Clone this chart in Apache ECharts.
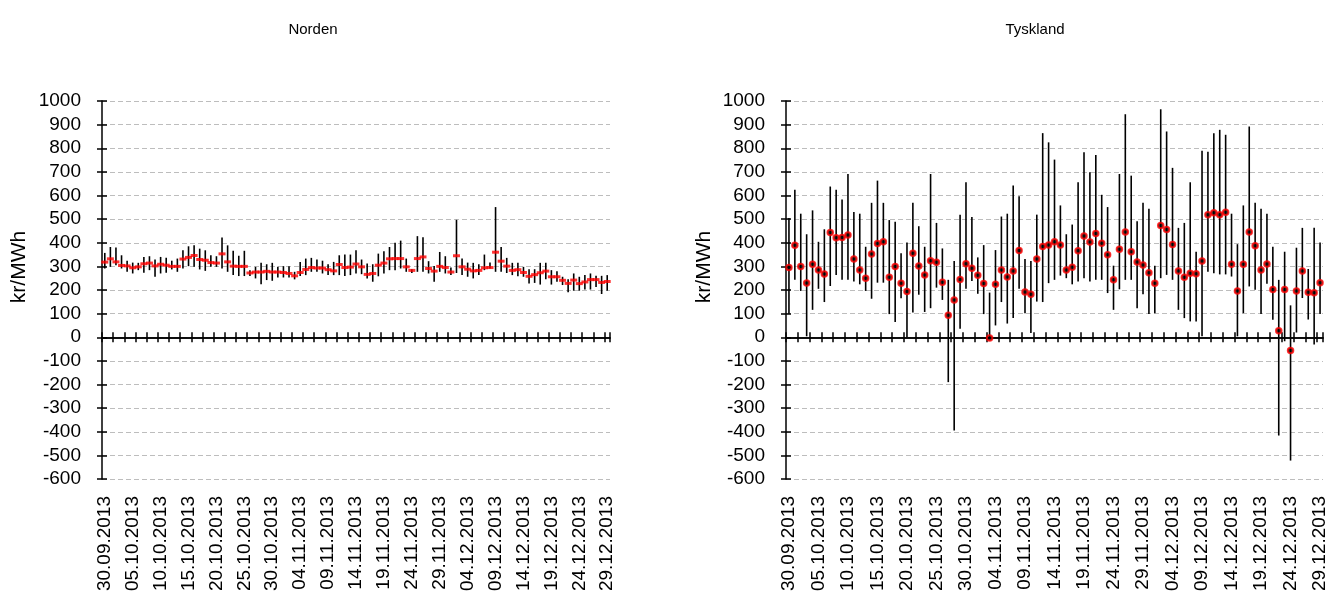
<!DOCTYPE html>
<html><head><meta charset="utf-8">
<script src="https://cdn.jsdelivr.net/npm/echarts@6/dist/echarts.min.js"></script>
<style>html,body{margin:0;padding:0;background:#fff}#c{width:1333px;height:601px}</style>
</head><body><div id="c"></div>
<script>
const categories = [
'30.09.2013',
'01.10.2013','02.10.2013','03.10.2013','04.10.2013','05.10.2013','06.10.2013','07.10.2013','08.10.2013','09.10.2013','10.10.2013',
'11.10.2013','12.10.2013','13.10.2013','14.10.2013','15.10.2013','16.10.2013','17.10.2013','18.10.2013','19.10.2013','20.10.2013',
'21.10.2013','22.10.2013','23.10.2013','24.10.2013','25.10.2013','26.10.2013','27.10.2013','28.10.2013','29.10.2013','30.10.2013','31.10.2013',
'01.11.2013','02.11.2013','03.11.2013','04.11.2013','05.11.2013','06.11.2013','07.11.2013','08.11.2013','09.11.2013','10.11.2013',
'11.11.2013','12.11.2013','13.11.2013','14.11.2013','15.11.2013','16.11.2013','17.11.2013','18.11.2013','19.11.2013','20.11.2013',
'21.11.2013','22.11.2013','23.11.2013','24.11.2013','25.11.2013','26.11.2013','27.11.2013','28.11.2013','29.11.2013','30.11.2013',
'01.12.2013','02.12.2013','03.12.2013','04.12.2013','05.12.2013','06.12.2013','07.12.2013','08.12.2013','09.12.2013','10.12.2013',
'11.12.2013','12.12.2013','13.12.2013','14.12.2013','15.12.2013','16.12.2013','17.12.2013','18.12.2013','19.12.2013','20.12.2013',
'21.12.2013','22.12.2013','23.12.2013','24.12.2013','25.12.2013','26.12.2013','27.12.2013','28.12.2013','29.12.2013'
];

// Norden (kr/MWh)
const nordenMax = [357,382,380,347,324,316,315,340,343,329,340,336,324,333,368,385,389,375,368,347,343,422,389,366,345,366,284,298,315,309,315,298,301,301,277,319,333,336,329,324,309,319,347,350,350,368,329,312,309,354,364,382,400,409,333,288,428,423,322,302,361,343,295,497,333,316,315,309,350,316,551,382,336,315,315,298,288,288,315,315,284,279,256,246,270,256,263,270,260,260,263];
const nordenMin = [291,298,305,291,277,270,284,273,284,256,270,273,287,277,291,301,298,287,281,298,298,291,277,263,259,259,259,249,224,242,239,253,253,253,245,259,263,277,277,270,263,263,263,259,263,270,267,249,235,258,270,284,284,291,277,272,277,277,270,235,277,270,263,272,263,256,249,263,284,291,277,277,272,263,258,256,228,230,223,246,223,235,221,190,197,197,202,202,213,183,197];
const nordenAvg = [318,332,319,304,302,294,298,311,314,302,309,305,300,300,331,338,346,329,326,316,314,353,319,301,300,300,272,276,276,279,276,276,274,270,260,274,287,295,293,293,286,281,308,295,297,310,298,266,270,305,314,332,333,333,298,283,333,340,291,280,300,295,276,345,298,288,281,283,294,295,360,322,301,283,286,274,258,265,273,280,256,256,241,228,242,227,234,244,244,232,236];

// Tyskland (kr/MWh)
const tysklandMax = [505,624,523,436,537,404,457,638,624,583,691,530,523,383,569,663,569,496,489,356,401,569,470,383,691,484,376,243,323,519,656,509,338,390,189,369,511,523,642,597,331,323,519,864,825,752,558,436,477,656,783,698,771,603,551,303,691,944,684,491,569,544,303,965,871,717,463,484,656,362,789,785,864,878,857,523,394,558,892,569,544,523,383,243,362,135,379,463,289,463,401];
const tysklandMin = [100,243,196,4,116,205,149,217,264,243,243,236,224,196,163,231,231,98,65,165,0,105,180,107,123,210,158,-190,-395,36,205,238,184,98,-6,50,149,58,81,205,102,18,151,149,229,243,261,250,224,236,250,236,243,243,187,116,203,243,243,123,182,98,102,250,264,243,116,81,67,67,4,277,271,266,266,257,4,102,215,201,98,226,74,-416,-17,-522,20,166,75,-31,98];
const tysklandAvg = [295,389,299,230,309,285,268,443,421,422,433,331,285,250,352,397,404,254,299,229,194,356,302,264,324,317,233,93,158,244,311,292,262,227,-3,224,285,255,280,367,192,182,331,384,390,404,391,285,296,366,429,403,439,398,349,243,372,445,362,318,306,273,229,473,456,393,280,254,271,269,323,519,527,518,529,309,196,309,446,387,285,310,202,28,202,-56,196,280,191,188,231];

const panelTitles = ['Norden', 'Tyskland'];
const yName = 'kr/MWh';
const yMin = -600, yMax = 1000, yStep = 100;

const FONT = 'Liberation Sans, Arial, sans-serif';
const chart = echarts.init(document.getElementById('c'), null, {renderer: 'canvas'});

const gridBoxes = [
  {left: 102, top: 101, width: 508, height: 378},
  {left: 786, top: 101, width: 537, height: 378}
];
const titlePos = [{x: 308, y: 17}, {x: 1030, y: 17}];
const yNamePos = [{x: 19, y: 267}, {x: 704, y: 267}];

const panels = [
  {max: nordenMax, min: nordenMin, avg: nordenAvg, marker: 'dash'},
  {max: tysklandMax, min: tysklandMin, avg: tysklandAvg, marker: 'dot'}
];

const xAxes = [], yAxes = [], series = [], titles = [], graphics = [];
panels.forEach((p, g) => {
  titles.push({text: panelTitles[g], left: titlePos[g].x, top: titlePos[g].y, textAlign: 'center',
    textStyle: {fontFamily: FONT, fontSize: 15, fontWeight: 'normal', color: '#000'}});
  graphics.push({type: 'text', x: yNamePos[g].x, y: yNamePos[g].y, rotation: Math.PI / 2,
    style: {text: yName, font: '21px ' + FONT, fill: '#000', align: 'center', verticalAlign: 'middle', textAlign: 'center', textVerticalAlign: 'middle'}});
  xAxes.push({gridIndex: g, type: 'category', data: categories, position: 'bottom', boundaryGap: true,
    axisLine: {show: false, onZero: false}, axisTick: {show: false}, splitLine: {show: false},
    axisLabel: {interval: 4, rotate: 90, fontFamily: FONT, fontSize: 19, color: '#000', margin: 17}});
  xAxes.push({gridIndex: g, type: 'category', data: categories, position: 'bottom', boundaryGap: true,
    axisLine: {show: true, onZero: true, lineStyle: {color: '#000', width: 1.5}},
    axisTick: {show: true, interval: 1, length: 5, inside: false, lineStyle: {color: '#000', width: 1.5}},
    axisLabel: {show: false}, splitLine: {show: false}});
  xAxes.push({gridIndex: g, type: 'category', data: categories, position: 'bottom', boundaryGap: true,
    axisLine: {show: true, onZero: true, lineStyle: {color: '#000', width: 1.5}},
    axisTick: {show: true, interval: 1, length: 5, inside: true, lineStyle: {color: '#000', width: 1.5}},
    axisLabel: {show: false}, splitLine: {show: false}});
  yAxes.push({gridIndex: g, type: 'value', position: 'left', min: yMin, max: yMax, interval: yStep,
    axisLine: {show: true, onZero: false, lineStyle: {color: '#000', width: 1.5}},
    axisTick: {show: true, length: 5, inside: false, lineStyle: {color: '#000', width: 1.5}},
    axisLabel: {fontFamily: FONT, fontSize: 19, color: '#000', margin: 21, formatter: v => String(v)},
    splitLine: {show: true, lineStyle: {color: '#bdbdbd', width: 1, type: [5, 3]}}});
  yAxes.push({gridIndex: g, type: 'value', position: 'left', min: yMin, max: yMax, interval: yStep,
    axisLine: {show: false, onZero: false},
    axisTick: {show: true, length: 5, inside: true, lineStyle: {color: '#000', width: 1.5}},
    axisLabel: {show: false}, splitLine: {show: false}});

  series.push({
    type: 'custom', xAxisIndex: 3 * g, yAxisIndex: 2 * g, z: 3, silent: true,
    encode: {x: 0, y: [1, 2]},
    data: categories.map((c, i) => [i, p.min[i], p.max[i]]),
    renderItem: function (params, api) {
      const x = api.value(0);
      const lo = api.coord([x, api.value(1)]);
      const hi = api.coord([x, api.value(2)]);
      return {type: 'line', shape: {x1: lo[0], y1: lo[1], x2: hi[0], y2: hi[1]},
        style: {stroke: '#000', lineWidth: 1.6}};
    }
  });
  if (p.marker === 'dash') {
    series.push({type: 'scatter', xAxisIndex: 3 * g, yAxisIndex: 2 * g, z: 4, silent: true,
      symbol: 'rect', symbolSize: [7, 3], itemStyle: {color: '#ff0000'},
      data: p.avg.map((v, i) => [i, v])});
  } else {
    series.push({type: 'scatter', xAxisIndex: 3 * g, yAxisIndex: 2 * g, z: 4, silent: true,
      symbol: 'circle', symbolSize: 5.5, itemStyle: {color: '#000', borderColor: '#ff0000', borderWidth: 2},
      data: p.avg.map((v, i) => [i, v])});
  }
});

chart.setOption({
  animation: false,
  backgroundColor: '#fff',
  title: titles,
  grid: gridBoxes,
  xAxis: xAxes,
  yAxis: yAxes,
  series: series,
  graphic: graphics
});
</script></body></html>
